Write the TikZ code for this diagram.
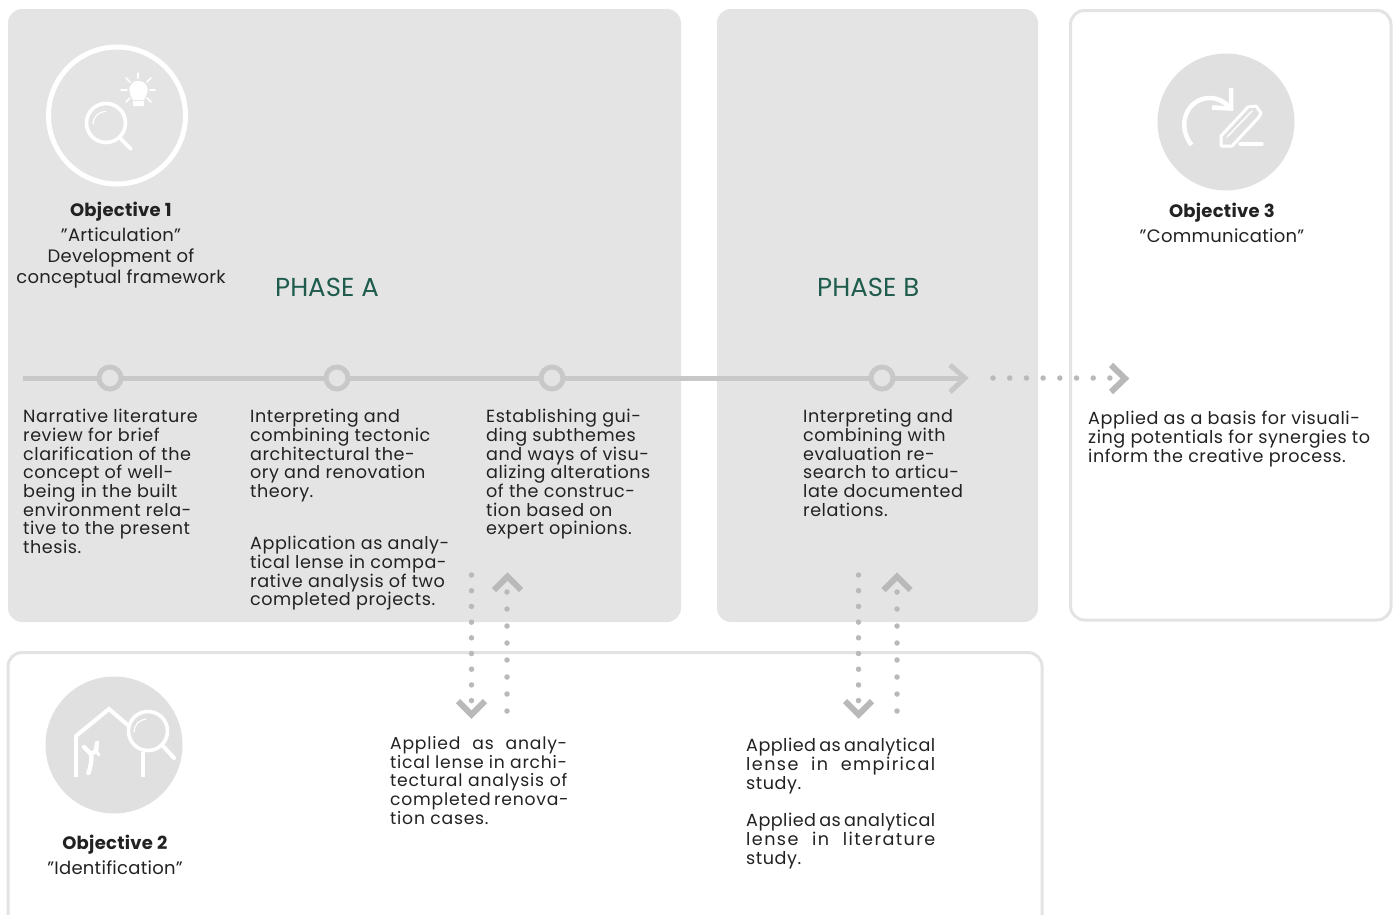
\documentclass[tikz,border=0pt]{standalone}
\usepackage{fontspec}
\setmainfont{Poppins}
\newfontfamily\bodyfam[LetterSpace=3]{Poppins}
\newfontfamily\widefam[LetterSpace=8,WordSpace=0.8]{Poppins}
\newfontfamily\midfam[LetterSpace=4.5]{Poppins}
\newfontfamily\tightfam[LetterSpace=2.6,WordSpace=0.8]{Poppins}
\newfontfamily\objfam[LetterSpace=1.5]{Poppins}
\definecolor{panel}{HTML}{E4E4E4}
\definecolor{iconbg}{HTML}{E0E0E0}
\definecolor{edgeg}{HTML}{E3E3E3}
\definecolor{tline}{HTML}{C8C8C8}
\definecolor{dotg}{HTML}{B9B9B9}
\definecolor{txt}{HTML}{222222}
\definecolor{phase}{HTML}{1F5C4D}
\tikzset{
  panelbox/.style={fill=panel,rounded corners=14pt,draw=none},
  framebox/.style={draw=edgeg,line width=3pt,rounded corners=14pt,fill=white},
  bodytext/.style={anchor=north west,align=left,inner sep=0pt,text=txt,font=\fontsize{17.6}{18.7}\selectfont\bodyfam},
  widetext/.style={anchor=north west,align=left,inner sep=0pt,text=txt,font=\fontsize{17.2}{18.7}\selectfont\midfam},
  objtext/.style={anchor=north,align=center,inner sep=0pt,text=txt,font=\fontsize{18}{21}\selectfont\objfam},
  phasetext/.style={anchor=base west,inner sep=0pt,text=phase,font=\fontsize{26}{28}\selectfont},
  milestone/.style={circle,draw=tline,line width=5pt,fill=panel,minimum size=22pt,inner sep=0pt},
  tl/.style={draw=tline,line width=5pt},
  chev/.style={draw=dotg,line width=6pt,miter limit=10},
  dotted line/.style={draw=dotg,line width=5.5pt,line cap=round,dash pattern=on 0pt off #1},
  iconline/.style={draw=white,line width=#1,line cap=round,line join=round},
  iconline/.default=3.6pt
}
\begin{document}
\begin{tikzpicture}[x=1pt,y=-1pt]
\useasboundingbox (0,0) rectangle (1397,914);
\begin{scope}
\clip (0,0) rectangle (1397,914);
\path[panelbox] (8,9) rectangle (681,622);
\path[panelbox] (717,9) rectangle (1038,622);
\path[framebox] (1070.5,10.5) rectangle (1391,620);
\path[framebox] (8,652.5) rectangle (1042,930);
\end{scope}
% timeline
\coordinate (tstart) at (23,378);
\coordinate (tend) at (965,378);
\draw[tl] (tstart) -- (tend);
\node[milestone] (m1) at (110,378) {};
\node[milestone] (m2) at (337,378) {};
\node[milestone] (m3) at (552,378) {};
\node[milestone] (m4) at (882,378) {};
\draw[tl,line join=miter] (950,365) -- (965,378) -- (950,392);
\coordinate (da) at (993,378);
\coordinate (db) at (1110,378);
\draw[dotted line=16.7pt] (da) -- (db);
\draw[chev] (1111,365) -- (1125,378.5) -- (1111,392);
% vertical dots A
\coordinate (a1) at (471.5,575); \coordinate (a2) at (471.5,702);
\draw[dotted line=15.7pt] (a1) -- (a2);
\draw[chev] (458,701) -- (471.5,714.5) -- (485,701);
\coordinate (a3) at (507,711); \coordinate (a4) at (507,590);
\draw[dotted line=17pt] (a3) -- (a4);
\draw[chev] (494,590) -- (507.5,576.5) -- (521,590);
% vertical dots B
\coordinate (b1) at (858.5,575); \coordinate (b2) at (858.5,702);
\draw[dotted line=15.7pt] (b1) -- (b2);
\draw[chev] (845,701) -- (858.5,714.5) -- (872,701);
\coordinate (b3) at (897,711); \coordinate (b4) at (897,590);
\draw[dotted line=17pt] (b3) -- (b4);
\draw[chev] (883.5,590) -- (897,576.5) -- (910.5,590);
% icon 1
\node[circle,draw=white,line width=5pt,minimum size=137pt,inner sep=0pt] (icon1) at (117,115.5) {};
\draw[iconline] (106,123) circle (19.5);
\draw[iconline] (119.5,137.5) -- (131,149);
\draw[iconline=1.2pt] (93,124) arc (180:270:12.5);
\fill[white] (131.5,97) .. controls (127,89) and (130,81) .. (138.5,81) .. controls (147,81) and (150,89) .. (145.5,97) -- (144,100) -- (133,100) -- cycle;
\fill[white] (133,101) rectangle (144,106);
\draw[iconline=1.6pt] (138,73) -- (138,78) (126,78) -- (130,82) (151,78) -- (147,82) (121,90) -- (127,90) (150,90) -- (155,90) (126,102) -- (130,98) (151,102) -- (147,98);
% icon 3
\node[circle,fill=iconbg,minimum size=137pt,inner sep=0pt] (icon3) at (1226,122) {};
\draw[iconline=4.5pt,line cap=butt] (1191.5,145) .. controls (1176,125) and (1187,98) .. (1210,98) .. controls (1218,98) and (1225,102) .. (1229,107);
\draw[iconline=4.5pt,line cap=butt,line join=miter] (1231,88) -- (1231,108.5) -- (1212,107.5);
\draw[iconline=3pt] (1221,146) -- (1221,136) -- (1248,107) -- (1256,106) -- (1261,113) -- (1259,117) -- (1232,146) -- cycle;
\draw[iconline=1.4pt] (1227,137) -- (1252,111);
\draw[iconline=3.4pt] (1240,144) -- (1262,144);
% icon 2
\node[circle,fill=iconbg,minimum size=137pt,inner sep=0pt] (icon2) at (114,745) {};
\draw[iconline=4pt,line cap=butt,line join=miter] (76,777) -- (76,736) -- (109,709) -- (129,726);
\draw[iconline] (148,731) circle (19.5);
\draw[iconline=4pt] (163,746) -- (174,758);
\draw[iconline=4pt,line cap=butt] (143,752) -- (143,777);
\draw[iconline=1.2pt] (134,732) arc (180:265:13);
\draw[iconline=4.5pt] (88.5,773) .. controls (91,765) and (92,760) .. (91,754) -- (84,747);
\draw[iconline=4.5pt] (91,754) -- (96,751) -- (97,743);
\draw[iconline=3pt] (96,751) -- (99,755);
% panels' text
\node[objtext] (o1) at (121,202) {\textbf{Objective 1}\\[4pt]”Articulation”\\Development of\\conceptual framework};
\node[objtext] (o3) at (1222,203) {\textbf{Objective 3}\\[4pt]”Communication”};
\node[objtext] (o2) at (115,835) {\textbf{Objective 2}\\[4pt]”Identification”};
\node[phasetext] (pa) at (275,296) {PHASE A};
\node[phasetext] (pb) at (817,296) {PHASE B};
\node[bodytext] (t1) at (23,409) {Narrative literature\\review for brief\\clarification of the\\concept of well-\\being in the built\\environment rela-\\tive to the present\\thesis.};
\node[bodytext] (t2) at (250,409) {Interpreting and\\combining tectonic\\architectural the-\\ory and renovation\\theory.};
\node[bodytext] (t2b) at (250,536) {Application as analy-\\tical lense in compa-\\rative analysis of two\\completed projects.};
\node[bodytext] (t3) at (486,409) {Establishing gui-\\ding subthemes\\and ways of visu-\\alizing alterations\\of the construc-\\tion based on\\expert opinions.};
\node[bodytext] (t4) at (803,409) {Interpreting and\\combining with\\evaluation re-\\search to articu-\\late documented\\relations.};
\node[bodytext] (t5) at (1088,411) {Applied as a basis for visuali-\\zing potentials for synergies to\\inform the creative process.};
\node[widetext] (t6) at (390,736) {\makebox[177pt][s]{Applied as analy-}\\\makebox[177pt][s]{tical lense in archi-}\\\makebox[177pt][s]{tectural analysis of}\\\makebox[177pt][s]{completed renova-}\\tion cases.};
\node[bodytext] (t7) at (746,738) {{\tightfam\makebox[189pt][s]{Applied as analytical}}\\{\widefam\makebox[189pt][s]{lense in empirical}}\\study.};
\node[bodytext] (t8) at (746,813) {{\tightfam\makebox[189pt][s]{Applied as analytical}}\\{\widefam\makebox[189pt][s]{lense in literature}}\\study.};
\end{tikzpicture}
\end{document}
